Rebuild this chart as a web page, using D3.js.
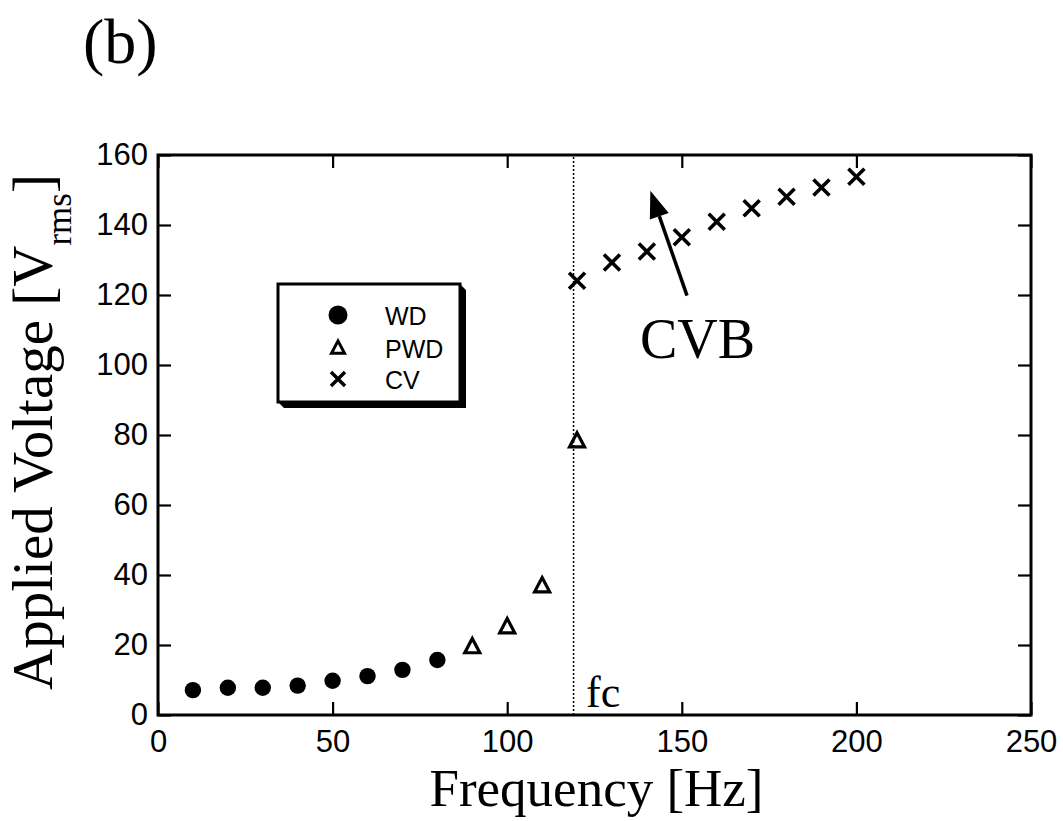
<!DOCTYPE html>
<html>
<head>
<meta charset="utf-8">
<script src="https://cdn.jsdelivr.net/npm/d3@7"></script>
<style>
  body { margin: 0; background: #fff; }
  svg { display: block; }
</style>
</head>
<body>
<svg id="chart" width="1063" height="821"></svg>
<script>
// data
const wdFreq = [10, 20, 30, 40, 50, 60, 70, 80];
const wdVolt = [7.1, 7.8, 7.8, 8.4, 9.8, 11.1, 12.9, 15.7];
const pwdFreq = [90, 100, 110, 120];
const pwdVolt = [19.5, 25.2, 36.9, 78.3];
const cvFreq = [120, 130, 140, 150, 160, 170, 180, 190, 200];
const cvVolt = [124.1, 129.3, 132.4, 136.5, 140.9, 144.8, 148.1, 150.7, 153.8];
const xTicks = [0, 50, 100, 150, 200, 250];
const yTicks = [0, 20, 40, 60, 80, 100, 120, 140, 160];
const fcFreq = 119;
const legendNames = ["WD", "PWD", "CV"];
// arrow annotation (tail -> tip) in data units
const arrowTail = [151.5, 119.8];
const arrowTip = [141, 149.8];

const svg = d3.select("#chart");
const plotL = 158, plotR = 1031, plotT = 155, plotB = 715;

const x = d3.scaleLinear().domain([0, 250]).range([plotL, plotR]);
const y = d3.scaleLinear().domain([0, 160]).range([plotB, plotT]);

const sans = "'Liberation Sans', Arial, Helvetica, sans-serif";
const serif = "'Liberation Serif', 'Times New Roman', serif";

// axes, ticks pointing inward on all four sides
function styleAxis(g) {
  g.select(".domain").remove();
  g.selectAll(".tick line").attr("stroke", "#000").attr("stroke-width", 2.2);
  g.selectAll(".tick text").attr("font-family", sans).attr("font-size", 31).attr("fill", "#000");
}
svg.append("g").attr("transform", `translate(0,${plotB})`)
  .call(d3.axisBottom(x).tickValues(xTicks).tickSizeInner(-13).tickSizeOuter(0).tickPadding(15))
  .call(styleAxis);
svg.append("g").attr("transform", `translate(0,${plotT})`)
  .call(d3.axisTop(x).tickValues(xTicks).tickSizeInner(-13).tickSizeOuter(0).tickFormat(""))
  .call(styleAxis);
svg.append("g").attr("transform", `translate(${plotL},0)`)
  .call(d3.axisLeft(y).tickValues(yTicks).tickSizeInner(-13).tickSizeOuter(0).tickPadding(10))
  .call(styleAxis);
svg.append("g").attr("transform", `translate(${plotR},0)`)
  .call(d3.axisRight(y).tickValues(yTicks).tickSizeInner(-13).tickSizeOuter(0).tickFormat(""))
  .call(styleAxis);

// frame
svg.append("rect")
  .attr("x", plotL).attr("y", plotT)
  .attr("width", plotR - plotL).attr("height", plotB - plotT)
  .attr("fill", "none").attr("stroke", "#000").attr("stroke-width", 3);

// cutoff frequency line
svg.append("line")
  .attr("x1", x(fcFreq)).attr("x2", x(fcFreq))
  .attr("y1", y(0)).attr("y2", y(160))
  .attr("stroke", "#000").attr("stroke-width", 1.5)
  .attr("stroke-dasharray", "2,2");

// marker helpers
const triPath = (cx, cy, s) =>
  `M${cx},${cy - s * 0.55}L${cx + s * 0.5},${cy + s * 0.4}L${cx - s * 0.5},${cy + s * 0.4}Z`;
const crossPath = (cx, cy, s) =>
  `M${cx - s / 2},${cy - s / 2}L${cx + s / 2},${cy + s / 2}M${cx + s / 2},${cy - s / 2}L${cx - s / 2},${cy + s / 2}`;

// WD points
svg.append("g").selectAll("circle")
  .data(d3.zip(wdFreq, wdVolt))
  .join("circle")
  .attr("cx", d => x(d[0])).attr("cy", d => y(d[1]))
  .attr("r", 8.2).attr("fill", "#000");

// PWD points
svg.append("g").selectAll("path")
  .data(d3.zip(pwdFreq, pwdVolt))
  .join("path")
  .attr("d", d => triPath(x(d[0]), y(d[1]), 15))
  .attr("fill", "none").attr("stroke", "#000").attr("stroke-width", 3.2)
  .attr("stroke-linejoin", "miter");

// CV points
svg.append("g").selectAll("path")
  .data(d3.zip(cvFreq, cvVolt))
  .join("path")
  .attr("d", d => crossPath(x(d[0]), y(d[1]), 16))
  .attr("fill", "none").attr("stroke", "#000").attr("stroke-width", 3.6);

// arrow for CVB
const ax0 = x(arrowTail[0]), ay0 = y(arrowTail[1]);
const ax1 = x(arrowTip[0]), ay1 = y(arrowTip[1]);
const ang = Math.atan2(ay1 - ay0, ax1 - ax0);
const headLen = 27, headW = 10;
const bx = ax1 - headLen * Math.cos(ang), by = ay1 - headLen * Math.sin(ang);
svg.append("line")
  .attr("x1", ax0).attr("y1", ay0).attr("x2", bx).attr("y2", by)
  .attr("stroke", "#000").attr("stroke-width", 3.5);
svg.append("path")
  .attr("d", `M${ax1},${ay1}L${bx + headW * Math.sin(ang)},${by - headW * Math.cos(ang)}L${bx - headW * Math.sin(ang)},${by + headW * Math.cos(ang)}Z`)
  .attr("fill", "#000");

svg.append("text")
  .attr("x", x(138)).attr("y", y(102))
  .attr("font-family", serif).attr("font-size", 56)
  .text("CVB");

svg.append("text")
  .attr("x", x(122.6)).attr("y", y(2.3))
  .attr("font-family", serif).attr("font-size", 44)
  .text("fc");

// legend with drop shadow
const lg = { x0: 278, y0: 284, x1: 460, y1: 402, sh: 6 };
svg.append("path")
  .attr("d", `M${lg.x1},${lg.y0}L${lg.x1 + lg.sh},${lg.y0 + lg.sh}L${lg.x1 + lg.sh},${lg.y1 + lg.sh}L${lg.x0 + lg.sh},${lg.y1 + lg.sh}L${lg.x0},${lg.y1}L${lg.x1},${lg.y1}Z`)
  .attr("fill", "#000");
svg.append("rect")
  .attr("x", lg.x0).attr("y", lg.y0)
  .attr("width", lg.x1 - lg.x0).attr("height", lg.y1 - lg.y0)
  .attr("fill", "#fff").attr("stroke", "#000").attr("stroke-width", 3);

const legY = [315, 348, 379];
const legMarkX = 338, legTextX = 385;
svg.append("circle").attr("cx", legMarkX).attr("cy", legY[0]).attr("r", 9.5).attr("fill", "#000");
svg.append("path").attr("d", triPath(legMarkX, legY[1], 13))
  .attr("fill", "none").attr("stroke", "#000").attr("stroke-width", 3);
svg.append("path").attr("d", crossPath(legMarkX, legY[2], 14))
  .attr("fill", "none").attr("stroke", "#000").attr("stroke-width", 3.5);
svg.append("g").selectAll("text")
  .data(legendNames)
  .join("text")
  .attr("x", legTextX).attr("y", (d, i) => legY[i] + 9.5)
  .attr("font-family", sans).attr("font-size", 25)
  .text(d => d);

// axis titles
svg.append("text")
  .attr("x", (plotL + plotR) / 2 + 2).attr("y", 806)
  .attr("text-anchor", "middle")
  .attr("font-family", serif).attr("font-size", 53)
  .text("Frequency [Hz]");

const yt = svg.append("text")
  .attr("transform", `translate(52,${(plotT + plotB) / 2 - 3}) rotate(-90)`)
  .attr("text-anchor", "middle")
  .attr("font-family", serif).attr("font-size", 57);
yt.append("tspan").text("Applied Voltage [V");
yt.append("tspan").attr("font-size", 35).attr("dy", 19).text("rms");
yt.append("tspan").attr("dy", -19).text("]");

// panel label
svg.append("text")
  .attr("x", 83).attr("y", 63)
  .attr("font-family", serif).attr("font-size", 64)
  .text("(b)");
</script>
</body>
</html>
